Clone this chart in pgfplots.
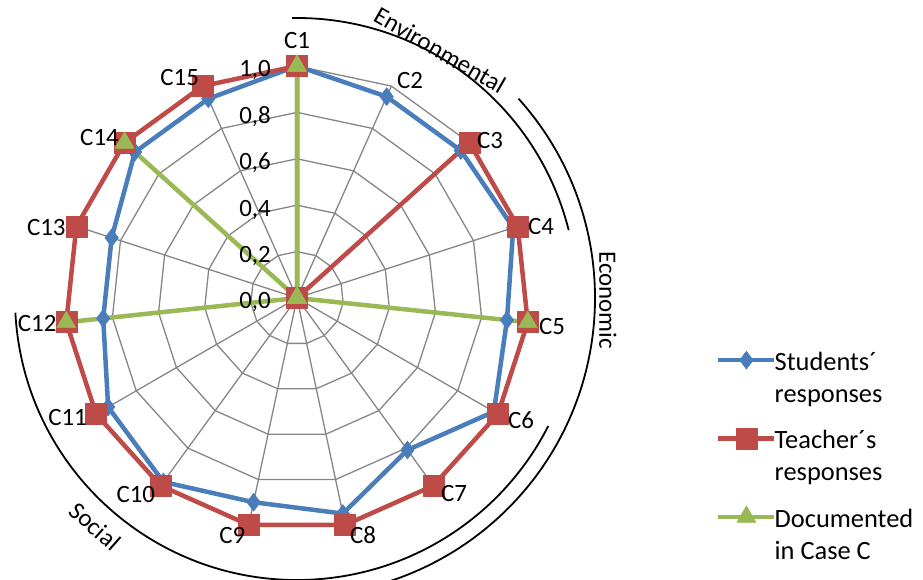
\documentclass[border=0pt]{standalone}
\usepackage{fontspec}
\setmainfont{Carlito}
\usepackage{pgfplots}
\usepackage{pgfplotstable}
\pgfplotsset{compat=1.18}
\usepgfplotslibrary{polar}
\definecolor{sblue}{RGB}{74,126,187}
\definecolor{sred}{RGB}{190,75,72}
\definecolor{sgreen}{RGB}{152,185,84}
\definecolor{sgrid}{RGB}{134,134,134}
\newcommand\lbl{\fontsize{25}{31}\selectfont}
\newcommand\leg{\fontsize{26.5}{32}\selectfont}
\tikzset{
  tlab/.style={anchor=base east, font=\lbl, inner sep=0pt, xshift=-26bp, yshift=-11bp},
  clab/.style={font=\lbl, inner sep=0pt},
}

\pgfplotstableread{
cat angle stu tea doc
C1  90  1.00 1.00 1.00
C2  66  0.95 0.00 0.00
C3  42  0.95 1.00 0.00
C4  18  0.98 1.00 0.00
C5  354 0.91 1.00 1.00
C6  330 0.98 1.00 0.00
C7  306 0.81 1.00 0.00
C8  282 0.95 1.00 0.00
C9  258 0.90 1.00 0.00
C10 234 0.98 1.00 0.00
C11 210 0.94 1.00 0.00
C12 186 0.84 1.00 1.00
C13 162 0.84 1.00 0.00
C14 138 0.94 1.00 1.00
C15 114 0.94 1.00 0.00
C1  90  1.00 1.00 1.00
}\radar

\begin{document}
\begin{tikzpicture}
\begin{polaraxis}[
  set layers,
  hide axis, clip=false,
  scale only axis, width=464bp, height=464bp,
  xmin=0, xmax=360, ymin=0, ymax=1,
  legend style={at={(axis description cs:1.403,0.392)}, anchor=north west,
    draw=none, fill=none, font=\leg, inner sep=0pt, row sep=54.5bp, column sep=-2bp,
    nodes={inner sep=0pt}},
  legend cell align=left,
  legend image code/.code={\draw[mark repeat=2,mark phase=2,#1] plot coordinates {(0bp,0bp) (28bp,0bp) (56bp,0bp)};},
]
\pgfplotsinvokeforeach{0.2,0.4,0.6,0.8,1.0}{
  \addplot[sgrid, line width=1.3bp, forget plot] coordinates {(90,#1) (66,#1) (42,#1) (18,#1) (354,#1) (330,#1) (306,#1) (282,#1) (258,#1) (234,#1) (210,#1) (186,#1) (162,#1) (138,#1) (114,#1) (90,#1)};
}
\pgfplotsinvokeforeach{90,66,42,18,354,330,306,282,258,234,210,186,162,138,114}{
  \addplot[sgrid, line width=1.3bp, forget plot] coordinates {(#1,0) (#1,1)};
}

\addplot[sblue, line width=4.5bp, line join=round, mark=diamond*, mark size=9bp,
  mark options={fill=sblue, draw=sblue, line width=0.5bp}] table[x=angle, y=stu] {\radar};
\addlegendentry{\begin{tabular}[t]{@{}l@{}}Students´\\responses\end{tabular}}
\addplot[sred, line width=4.5bp, line join=round, mark=square*, mark size=10.5bp,
  mark options={fill=sred, draw=sred, line width=0.5bp}] table[x=angle, y=tea] {\radar};
\addlegendentry{\begin{tabular}[t]{@{}l@{}}Teacher´s\\responses\end{tabular}}
\addplot[sgreen, line width=4.5bp, line join=round, mark=triangle*, mark size=11bp,
  mark options={fill=sgreen, draw=sgreen, line width=0.5bp}] table[x=angle, y=doc] {\radar};
\addlegendentry{\begin{tabular}[t]{@{}l@{}}Documented\\in Case C\end{tabular}}

\coordinate (O) at (axis cs:0,0);

\begin{pgfonlayer}{axis foreground}
% radial tick labels
\node[tlab] at (axis cs:90,0) {0,0};
\node[tlab] at (axis cs:90,0.2) {0,2};
\node[tlab] at (axis cs:90,0.4) {0,4};
\node[tlab] at (axis cs:90,0.6) {0,6};
\node[tlab] at (axis cs:90,0.8) {0,8};
\node[tlab] at (axis cs:90,1) {1,0};

% category labels
\node[clab] at (axis cs:90,1.112) {C1};
\node[clab] at (axis cs:62.6,1.058) {C2};
\node[clab] at (axis cs:39.3,1.075) {C3};
\node[clab] at (axis cs:16.4,1.097) {C4};
\node[clab] at (axis cs:353.7,1.106) {C5};
\node[clab] at (axis cs:331.4,1.10) {C6};
\node[clab] at (axis cs:308.8,1.08) {C7};
\node[clab] at (axis cs:285.6,1.06) {C8};
\node[clab] at (axis cs:254.8,1.062) {C9};
\node[clab] at (axis cs:230.7,1.097) {C10};
\node[clab] at (axis cs:207.5,1.115) {C11};
\node[clab] at (axis cs:185.5,1.125) {C12};
\node[clab] at (axis cs:164.4,1.122) {C13};
\node[clab] at (axis cs:140.9,1.097) {C14};
\node[clab] at (axis cs:118,1.077) {C15};

% group arcs
\draw[black, line width=1.8bp] (axis cs:91,1.2069) arc[start angle=91, end angle=14, radius=280bp];
\draw[black, line width=1.8bp] (axis cs:42,1.2845) arc[start angle=42, end angle=-80, radius=298bp];
\draw[black, line width=1.8bp] (axis cs:183,1.2155) arc[start angle=183, end angle=333, radius=282bp];
\node[font=\lbl, rotate=-30] at (axis cs:60,1.233) {Environmental};
\node[font=\lbl, rotate=-90] at (axis cs:359.6,1.34) {Economic};
\node[font=\lbl, rotate=-41.5] at (axis cs:228.5,1.313) {Social};
\end{pgfonlayer}
\end{polaraxis}
\pgfresetboundingbox
\path[use as bounding box] (O) ++(-297bp,-282bp) rectangle ++(923bp,580bp);
\end{tikzpicture}
\end{document}
